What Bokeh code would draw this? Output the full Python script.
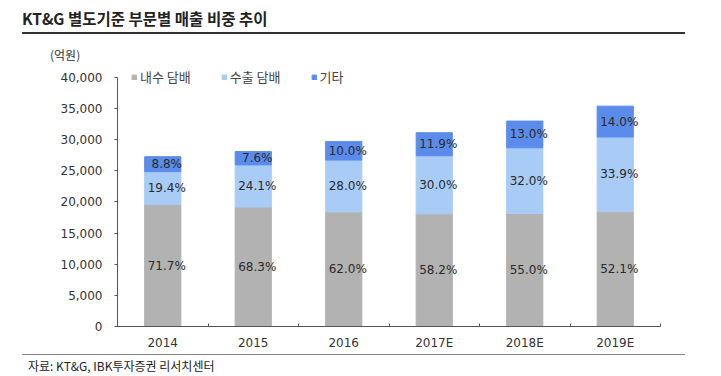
from bokeh.plotting import figure
from bokeh.models import (ColumnDataSource, FixedTicker, NumeralTickFormatter, Legend,
                          LegendItem, Div, Range1d, LabelSet)
from bokeh.layouts import column
from bokeh.embed import file_html
from bokeh.resources import INLINE
from bokeh.core.properties import value

# ---- data (억원) ----
years = ["2014", "2015", "2016", "2017E", "2018E", "2019E"]
domestic = [19580, 19190, 18410, 18100, 18150, 18440]   # 내수 담배
export = [5300, 6770, 8320, 9330, 10560, 12000]          # 수출 담배
other = [2400, 2140, 2970, 3700, 4290, 4960]             # 기타
pct_domestic = ["71.7%", "68.3%", "62.0%", "58.2%", "55.0%", "52.1%"]
pct_export = ["19.4%", "24.1%", "28.0%", "30.0%", "32.0%", "33.9%"]
pct_other = ["8.8%", "7.6%", "10.0%", "11.9%", "13.0%", "14.0%"]
y_ticks = [0, 5000, 10000, 15000, 20000, 25000, 30000, 35000, 40000]
series_names = ["내수 담배", "수출 담배", "기타"]

C_GRAY = "#B2B2B2"
C_LIGHT = "#A8CCF5"
C_BLUE = "#5B8CEB"
KFONT = "Noto Sans CJK KR"
NFONT = "DejaVu Sans"

xc = [i + 0.5 for i in range(len(years))]
b1 = [0] * len(years)
t1 = [d for d in domestic]
b2 = t1
t2 = [a + b for a, b in zip(t1, export)]
b3 = t2
t3 = [a + b for a, b in zip(t2, other)]

src = ColumnDataSource(dict(
    x=xc, b1=b1, t1=t1, b2=b2, t2=t2, b3=b3, t3=t3,
    m1=[(a + b) / 2 for a, b in zip(b1, t1)],
    m2=[(a + b) / 2 for a, b in zip(b2, t2)],
    m3=[(a + b) / 2 for a, b in zip(b3, t3)],
    p1=pct_domestic, p2=pct_export, p3=pct_other,
))

# frame: top at 67px, bottom at 326px; 40,000 sits at 77px
p = figure(width=721, height=290, output_backend="svg", toolbar_location=None,
           x_range=Range1d(0, 6), y_range=Range1d(0, 41606),
           min_border_left=117, min_border_right=61, min_border_top=5,
           min_border_bottom=26, margin=0)
p.outline_line_color = None
p.xgrid.visible = False
p.ygrid.visible = False
p.background_fill_color = "white"
p.border_fill_color = "white"

r1 = p.vbar(x="x", bottom="b1", top="t1", width=0.4, color=C_GRAY, source=src)
r2 = p.vbar(x="x", bottom="b2", top="t2", width=0.4, color=C_LIGHT, source=src)
r3 = p.vbar(x="x", bottom="b3", top="t3", width=0.4, color=C_BLUE, source=src)

for col_y, col_t in (("m1", "p1"), ("m2", "p2"), ("m3", "p3")):
    p.add_layout(LabelSet(x="x", y=col_y, text=col_t, source=src,
                          text_align="center", text_baseline="middle",
                          x_offset=4, text_font=value(NFONT),
                          text_font_size="12px", text_color="#2a2a2a"))

# y axis
ya = p.yaxis[0]
ya.ticker = FixedTicker(ticks=y_ticks)
ya.bounds = (0, 40000)
ya.formatter = NumeralTickFormatter(format="0,0")
ya.axis_line_color = "#555555"
ya.major_tick_line_color = "#555555"
ya.major_tick_out = 3
ya.major_tick_in = 0
ya.minor_tick_line_color = None
ya.major_label_text_font = NFONT
ya.major_label_text_font_size = "12px"
ya.major_label_text_color = "#333333"
ya.major_label_standoff = 12

# x axis
xa = p.xaxis[0]
xa.ticker = FixedTicker(ticks=xc, minor_ticks=list(range(len(years) + 1)))
xa.major_label_overrides = {v: y for v, y in zip(xc, years)}
xa.axis_line_color = "#555555"
xa.major_tick_line_color = None
xa.major_tick_in = 0
xa.major_tick_out = 0
xa.minor_tick_line_color = "#555555"
xa.minor_tick_in = 3
xa.minor_tick_out = 0
xa.major_label_text_font = NFONT
xa.major_label_text_font_size = "12px"
xa.major_label_text_color = "#333333"
xa.major_label_standoff = 9

legend = Legend(items=[LegendItem(label=series_names[0], renderers=[r1]),
                       LegendItem(label=series_names[1], renderers=[r2]),
                       LegendItem(label=series_names[2], renderers=[r3])],
                orientation="horizontal", location=(14, 240),
                glyph_width=6, glyph_height=6, label_standoff=3, spacing=30,
                padding=0, margin=0, border_line_color=None,
                background_fill_alpha=0,
                label_text_font=KFONT, label_text_font_size="13px",
                label_text_color="#444444", label_height=14)
p.add_layout(legend, "center")

top = Div(width=721, height=62, margin=0, text=(
    '<div style="position:relative;width:721px;height:62px;">'
    '<div style="position:absolute;left:22px;top:9px;font-family:\'Noto Sans CJK KR\';'
    'font-weight:bold;font-size:15.5px;line-height:18px;color:#222;white-space:nowrap;">'
    'KT&amp;G 별도기준 부문별 매출 비중 추이</div>'
    '<div style="position:absolute;left:22px;top:32px;width:663px;height:0;'
    'border-top:2px solid #333;"></div>'
    '<div style="position:absolute;left:50px;top:47px;font-family:\'Noto Sans CJK KR\';'
    'font-size:12px;line-height:16px;color:#333;white-space:nowrap;">(억원)</div>'
    '</div>'))

bottom = Div(width=721, height=24, margin=0, text=(
    '<div style="position:relative;width:721px;height:24px;">'
    '<div style="position:absolute;left:22px;top:2px;width:663px;height:0;'
    'border-top:1px solid #888;"></div>'
    '<div style="position:absolute;left:28px;top:6px;font-family:\'Noto Sans CJK KR\';'
    'font-size:12px;line-height:16px;color:#222;white-space:nowrap;">'
    '자료: KT&amp;G, IBK투자증권 리서치센터</div>'
    '</div>'))

layout = column(top, p, bottom, spacing=0, margin=0)
open("out.html", "w").write(file_html(layout, INLINE))
